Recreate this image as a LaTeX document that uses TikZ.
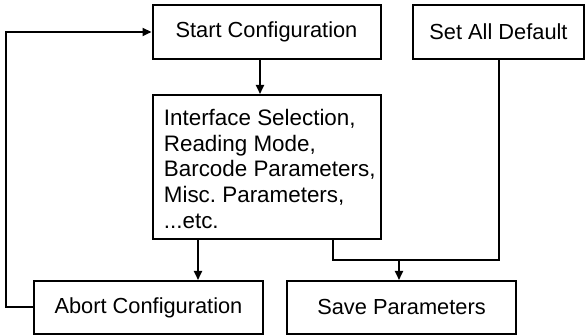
\documentclass[tikz,border=0pt]{standalone}
\usepackage{fontspec}
\setmainfont{Liberation Sans}
\usetikzlibrary{arrows.meta,calc,positioning}
\frenchspacing

\tikzset{
  box/.style={draw, line width=1pt, minimum height=27pt, inner sep=0pt,
    font=\fontsize{10.9}{12.8}\selectfont},
  list/.style={inner sep=0pt, align=left, font=\fontsize{11.2}{12.9}\selectfont},
  link/.style={line width=1pt},
  arr/.style={line width=1pt, -{Triangle[length=4.5pt,width=4pt]}}
}

\begin{document}
\begin{tikzpicture}[x=0.5pt,y=-0.5pt]
\useasboundingbox (0,0) rectangle (585,335);
\node[box, minimum width=114pt] (start) at (266.5,32) {Start Configuration};
\node[box, minimum width=85.5pt] (setall) at (498.5,32) {Set All Default};
\node[box, minimum width=114pt, minimum height=72pt] (params) at (266.5,167) {};
\node[list, anchor=west] (paramstext) at ([xshift=6pt,yshift=-1pt]params.west)
  {Interface Selection,\\Reading Mode,\\Barcode Parameters,\\Misc. Parameters,\\...etc.};
\node[box, minimum width=114.5pt, minimum height=26.5pt] (abort) at (148.5,307.5) {Abort Configuration};
\node[box, minimum width=114.5pt, minimum height=26.5pt] (save) at (401.5,307.5) {Save Parameters};
\coordinate (join) at (399,260.5);
\coordinate (loop) at (6,0);
% flow
\draw[arr] ([xshift=-3.25pt]start.south) -- ([xshift=-3.25pt]params.north);
\draw[arr] ([xshift=-34.25pt]params.south) -- ([xshift=-34.25pt]params.south |- abort.north);
\draw[link] ([xshift=33.25pt]params.south) |- (join -| setall.south) -- (setall.south);
\draw[arr] (join) -- (join |- save.north);
% back to start
\draw[arr] (abort.west) -- (abort.west -| loop) -- (start.west -| loop) -- (start.west);
\end{tikzpicture}
\end{document}
